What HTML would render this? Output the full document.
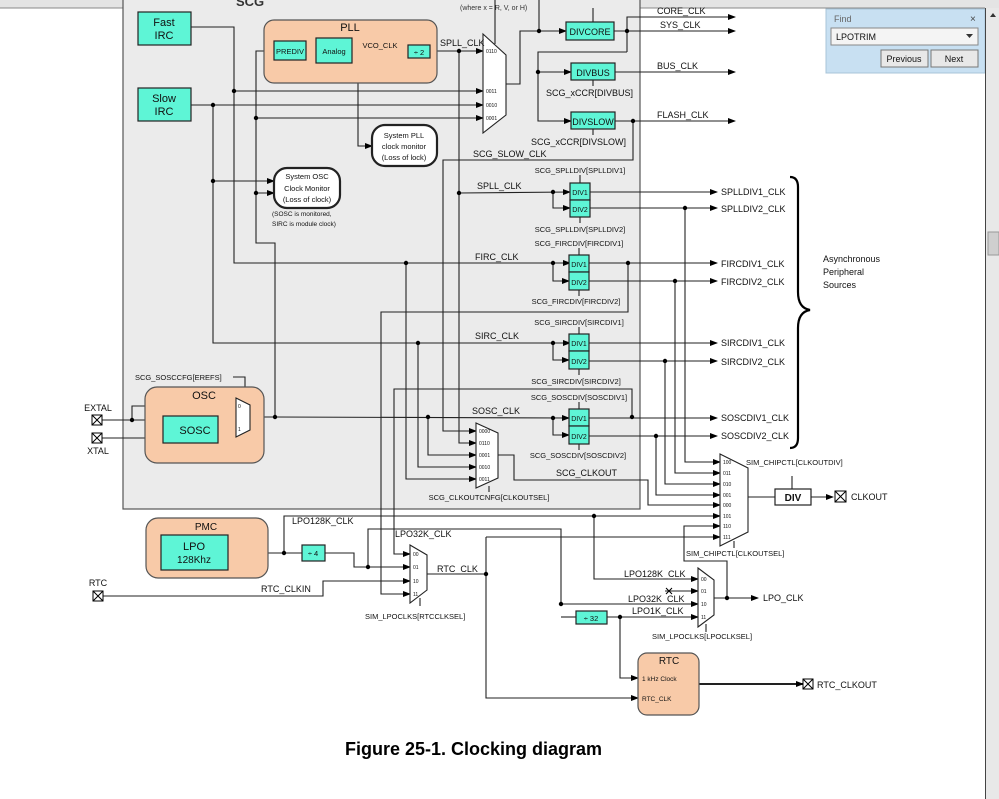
<!DOCTYPE html>
<html><head><meta charset="utf-8"><style>
html,body{margin:0;padding:0;background:#fff;}
svg{display:block;font-family:"Liberation Sans",sans-serif;}
</style></head><body>
<svg width="999" height="799" viewBox="0 0 999 799" xmlns="http://www.w3.org/2000/svg">
<defs>
<marker id="a" markerWidth="8" markerHeight="6" refX="7" refY="3" orient="auto" markerUnits="userSpaceOnUse"><path d="M0,0 L8,3 L0,6 z" fill="#000"/></marker>
</defs>
<rect width="999" height="799" fill="#fff"/>
<!-- top bar -->
<rect x="0" y="0" width="999" height="8" fill="#e4e4e4"/>
<line x1="0" y1="8" x2="985" y2="8" stroke="#888"/>
<!-- SCG box -->
<rect x="123" y="-2" width="517" height="511" fill="#ebebeb" stroke="#555" stroke-width="1.2"/>
<text x="236" y="6" font-size="13" font-weight="bold" fill="#333">SCG</text>
<text x="460" y="10" font-size="7" fill="#333">(where x = R, V, or H)</text>

<g fill="none" stroke="#222" stroke-width="1.1">
<!-- Fast IRC -->
<polyline points="191,27 234,27 234,263 570,263" marker-end="url(#a)"/>
<line x1="234" y1="91" x2="483" y2="91" marker-end="url(#a)"/>
<!-- Slow IRC -->
<line x1="191" y1="105" x2="483" y2="105" marker-end="url(#a)"/>
<polyline points="213,105 213,343 570,343" marker-end="url(#a)"/>
<line x1="213" y1="181" x2="274" y2="181" marker-end="url(#a)"/>
<!-- OSC feed vertical -->
<polyline points="274,51 256,51 256,243 275,243 275,417"/>
<line x1="256" y1="51" x2="274" y2="51" marker-end="url(#a)"/>
<line x1="256" y1="118" x2="483" y2="118" marker-end="url(#a)"/>
<line x1="256" y1="193" x2="274" y2="193" marker-end="url(#a)"/>
<!-- PLL internal -->
<line x1="306" y1="51" x2="316" y2="51"/>
<line x1="352" y1="51" x2="408" y2="51"/>
<polyline points="358,51 358,146 372,146" marker-end="url(#a)"/>
<line x1="430" y1="51" x2="483" y2="51" marker-end="url(#a)"/>
<polyline points="459,51 459,443 476,443" marker-end="url(#a)"/>
<polyline points="459,193 570,192" marker-end="url(#a)"/>
<!-- mux1 output -->
<polyline points="506,84 520,84 520,31 566,31" marker-end="url(#a)"/>
<line x1="539" y1="0" x2="539" y2="31"/>
<line x1="495" y1="0" x2="495" y2="44"/>
<polyline points="627,52 538,52 538,121 571,121" marker-end="url(#a)"/>
<line x1="538" y1="72" x2="571" y2="72" marker-end="url(#a)"/>
<line x1="614" y1="31" x2="735" y2="31" marker-end="url(#a)"/>
<polyline points="627,52 627,17 735,17" marker-end="url(#a)"/>
<line x1="615" y1="72" x2="735" y2="72" marker-end="url(#a)"/>
<line x1="615" y1="121" x2="735" y2="121" marker-end="url(#a)"/>
<polyline points="633,121 633,160 443,160 443,431 476,431" marker-end="url(#a)"/>
<line x1="593" y1="8" x2="593" y2="22"/>
<line x1="593" y1="80" x2="593" y2="86"/>
<line x1="593" y1="129" x2="593" y2="135"/>
<!-- DIV splitters -->
<polyline points="553,192 553,208 570,208" marker-end="url(#a)"/>
<polyline points="553,263 553,281 569,281" marker-end="url(#a)"/>
<polyline points="553,343 553,360 569,360" marker-end="url(#a)"/>
<polyline points="553,418 553,435 569,435" marker-end="url(#a)"/>
<line x1="275" y1="417" x2="569" y2="418" marker-end="url(#a)"/>
<!-- reg lines -->
<line x1="580" y1="175" x2="580" y2="183"/><line x1="580" y1="217" x2="580" y2="223"/>
<line x1="579" y1="248" x2="579" y2="255"/><line x1="579" y1="290" x2="579" y2="296"/>
<line x1="579" y1="327" x2="579" y2="334"/><line x1="579" y1="369" x2="579" y2="375"/>
<line x1="579" y1="402" x2="579" y2="409"/><line x1="579" y1="444" x2="579" y2="450"/>
<!-- DIV outputs -->
<line x1="590" y1="192" x2="717" y2="192" marker-end="url(#a)"/>
<line x1="590" y1="208" x2="717" y2="208" marker-end="url(#a)"/>
<line x1="589" y1="263" x2="717" y2="263" marker-end="url(#a)"/>
<line x1="589" y1="281" x2="717" y2="281" marker-end="url(#a)"/>
<line x1="589" y1="343" x2="717" y2="343" marker-end="url(#a)"/>
<line x1="589" y1="361" x2="717" y2="361" marker-end="url(#a)"/>
<line x1="589" y1="418" x2="717" y2="418" marker-end="url(#a)"/>
<line x1="589" y1="436" x2="717" y2="436" marker-end="url(#a)"/>
<!-- clkout mux inputs -->
<polyline points="428,417 428,455 476,455" marker-end="url(#a)"/>
<polyline points="418,343 418,467 476,467" marker-end="url(#a)"/>
<polyline points="406,263 406,479 476,479" marker-end="url(#a)"/>
<line x1="489" y1="486" x2="489" y2="492"/>
<polyline points="498,455 514,455 514,480 648,480 648,505 720,505" marker-end="url(#a)"/>
<!-- to RTC mux -->
<polyline points="628,263 628,312 381,312 381,594 410,594" marker-end="url(#a)"/>
<polyline points="632,417 632,389 394,389 394,554 410,554" marker-end="url(#a)"/>
<!-- SIM mux inputs -->
<polyline points="685,208 685,462 720,462" marker-end="url(#a)"/>
<polyline points="675,281 675,473 720,473" marker-end="url(#a)"/>
<polyline points="665,361 665,484 720,484" marker-end="url(#a)"/>
<polyline points="656,436 656,495 720,495" marker-end="url(#a)"/>
<line x1="748" y1="497" x2="775" y2="497"/>
<line x1="792" y1="476" x2="792" y2="489"/>
<line x1="811" y1="497" x2="833" y2="497" marker-end="url(#a)"/>
<line x1="734" y1="541" x2="734" y2="548"/>
<!-- OSC -->
<line x1="102" y1="420" x2="163" y2="420" marker-end="url(#a)"/>
<line x1="102" y1="438" x2="163" y2="438" marker-end="url(#a)"/>
<polyline points="132,420 132,406 236,406" marker-end="url(#a)"/>
<line x1="218" y1="429" x2="236" y2="429" marker-end="url(#a)"/>
<line x1="250" y1="417" x2="275" y2="417"/>
<polyline points="233,377 245,377 245,402"/>
<!-- LPO section -->
<line x1="228" y1="553" x2="302" y2="553"/>
<polyline points="284,553 284,516 720,516" marker-end="url(#a)"/>
<polyline points="594,516 594,579 698,579" marker-end="url(#a)"/>
<polyline points="325,553 354,553 354,567 410,567" marker-end="url(#a)"/>
<polyline points="368,567 368,529 561,529 561,604 698,604" marker-end="url(#a)"/>
<polyline points="561,617 576,617"/>
<line x1="607" y1="617" x2="698" y2="617" marker-end="url(#a)"/>
<polyline points="620,617 620,678 638,678" marker-end="url(#a)"/>
<polyline points="98,596 323,596 323,581 410,581" marker-end="url(#a)"/>
<line x1="427" y1="574" x2="486" y2="574"/>
<polyline points="486,537 720,537" marker-end="url(#a)"/>
<polyline points="486,537 486,698 638,698" marker-end="url(#a)"/>
<polyline points="720,526 684,526 684,561 727,561 727,598"/>
<line x1="684" y1="526" x2="720" y2="526" marker-end="url(#a)"/>
<line x1="714" y1="598" x2="758" y2="598" marker-end="url(#a)"/>
<line x1="665" y1="591" x2="698" y2="591" marker-end="url(#a)"/>
<line x1="420" y1="598" x2="420" y2="606"/>
<line x1="706" y1="624" x2="706" y2="632"/>
<line x1="699" y1="684" x2="803" y2="684" stroke-width="2" marker-end="url(#a)"/>
</g>
<!-- X mark -->
<path d="M666,588 l6,6 M672,588 l-6,6" stroke="#000" stroke-width="1"/>

<!-- dots -->
<g fill="#000">
<circle cx="234" cy="91" r="2.2"/><circle cx="213" cy="105" r="2.2"/><circle cx="213" cy="181" r="2.2"/>
<circle cx="256" cy="118" r="2.2"/><circle cx="256" cy="193" r="2.2"/><circle cx="358" cy="51" r="2.2"/>
<circle cx="459" cy="51" r="2.2"/><circle cx="459" cy="193" r="2.2"/><circle cx="539" cy="31" r="2.2"/>
<circle cx="538" cy="72" r="2.2"/><circle cx="627" cy="31" r="2.2"/><circle cx="633" cy="121" r="2.2"/>
<circle cx="553" cy="192" r="2.2"/><circle cx="553" cy="263" r="2.2"/><circle cx="553" cy="343" r="2.2"/><circle cx="553" cy="418" r="2.2"/>
<circle cx="406" cy="263" r="2.2"/><circle cx="418" cy="343" r="2.2"/><circle cx="428" cy="417" r="2.2"/><circle cx="275" cy="417" r="2.2"/>
<circle cx="628" cy="263" r="2.2"/><circle cx="632" cy="417" r="2.2"/>
<circle cx="685" cy="208" r="2.2"/><circle cx="675" cy="281" r="2.2"/><circle cx="665" cy="361" r="2.2"/><circle cx="656" cy="436" r="2.2"/>
<circle cx="132" cy="420" r="2.2"/><circle cx="284" cy="553" r="2.2"/><circle cx="594" cy="516" r="2.2"/>
<circle cx="368" cy="567" r="2.2"/><circle cx="561" cy="604" r="2.2"/><circle cx="620" cy="617" r="2.2"/>
<circle cx="486" cy="574" r="2.2"/><circle cx="727" cy="598" r="2.2"/>
</g>

<!-- blocks -->
<g stroke="#222" stroke-width="1.2">
<rect x="138" y="12" width="53" height="33" fill="#5ef5d6"/>
<rect x="138" y="88" width="53" height="33" fill="#5ef5d6"/>
<rect x="264" y="20" width="173" height="63" rx="10" fill="#f8caa8" stroke="#555"/>
<rect x="274" y="41" width="32" height="19" fill="#5ef5d6"/>
<rect x="316" y="38" width="36" height="25" fill="#5ef5d6"/>
<rect x="408" y="45" width="22" height="13" fill="#5ef5d6"/>
<rect x="566" y="22" width="48" height="18" fill="#5ef5d6"/>
<rect x="571" y="63" width="44" height="17" fill="#5ef5d6"/>
<rect x="571" y="112" width="44" height="17" fill="#5ef5d6"/>
<rect x="570" y="183" width="20" height="17" fill="#5ef5d6"/><rect x="570" y="200" width="20" height="17" fill="#5ef5d6"/>
<rect x="569" y="255" width="20" height="17" fill="#5ef5d6"/><rect x="569" y="272" width="20" height="18" fill="#5ef5d6"/>
<rect x="569" y="334" width="20" height="17" fill="#5ef5d6"/><rect x="569" y="351" width="20" height="18" fill="#5ef5d6"/>
<rect x="569" y="409" width="20" height="17" fill="#5ef5d6"/><rect x="569" y="426" width="20" height="18" fill="#5ef5d6"/>
<rect x="372" y="125" width="65" height="41" rx="13" fill="#fff" stroke-width="2.2"/>
<rect x="274" y="168" width="66" height="40" rx="13" fill="#fff" stroke-width="2.2"/>
<rect x="145" y="387" width="119" height="76" rx="12" fill="#f8caa8" stroke="#555"/>
<rect x="163" y="416" width="55" height="27" fill="#5ef5d6"/>
<rect x="146" y="518" width="122" height="60" rx="12" fill="#f8caa8" stroke="#555"/>
<rect x="161" y="535" width="67" height="35" fill="#5ef5d6"/>
<rect x="302" y="545" width="23" height="16" fill="#5ef5d6"/>
<rect x="576" y="611" width="31" height="13" fill="#5ef5d6"/>
<rect x="638" y="653" width="61" height="62" rx="9" fill="#f8caa8" stroke="#555"/>
<rect x="775" y="489" width="36" height="16" fill="#fff"/>
</g>
<!-- muxes -->
<g fill="#fff" stroke="#222" stroke-width="1.1">
<polygon points="483,34 506,55 506,115 483,133"/>
<polygon points="476,423 498,433 498,478 476,488"/>
<polygon points="720,454 748,468 748,532 720,546"/>
<polygon points="410,545 427,555 427,590 410,603"/>
<polygon points="698,568 714,580 714,615 698,627"/>
<polygon points="236,398 250,405 250,430 236,437"/>
</g>
<!-- pads -->
<g fill="#fff" stroke="#000" stroke-width="1">
<rect x="92" y="415" width="10" height="10"/><path d="M92,415 l10,10 M102,415 l-10,10"/>
<rect x="92" y="433" width="10" height="10"/><path d="M92,433 l10,10 M102,433 l-10,10"/>
<rect x="93" y="591" width="10" height="10"/><path d="M93,591 l10,10 M103,591 l-10,10"/>
<rect x="835" y="491" width="11" height="11"/><path d="M835,491 l11,11 M846,491 l-11,11"/>
<rect x="803" y="679" width="10" height="10"/><path d="M803,679 l10,10 M813,679 l-10,10"/>
</g>
<!-- brace -->
<path d="M790,177 q8,0 8,10 v105 q0,16 12,18 q-12,2 -12,18 v110 q0,10 -8,10" fill="none" stroke="#000" stroke-width="2.2"/>

<!-- text -->
<g font-size="10" fill="#111">
<text x="164" y="26" text-anchor="middle" font-size="11">Fast</text><text x="164" y="39" text-anchor="middle" font-size="11">IRC</text>
<text x="164" y="102" text-anchor="middle" font-size="11">Slow</text><text x="164" y="115" text-anchor="middle" font-size="11">IRC</text>
<text x="350" y="31" text-anchor="middle" font-size="11">PLL</text>
<text x="290" y="54" text-anchor="middle" font-size="7.5">PREDIV</text>
<text x="334" y="54" text-anchor="middle" font-size="7.5">Analog</text>
<text x="380" y="48" text-anchor="middle" font-size="7.5">VCO_CLK</text>
<text x="419" y="55" text-anchor="middle" font-size="7.5">÷ 2</text>
<text x="440" y="46" font-size="9">SPLL_CLK</text>
<g font-size="5"><text x="486" y="53">0110</text><text x="486" y="93">0011</text><text x="486" y="107">0010</text><text x="486" y="120">0001</text>
<text x="479" y="433">0000</text><text x="479" y="445">0110</text><text x="479" y="457">0001</text><text x="479" y="469">0010</text><text x="479" y="481">0011</text>
<text x="723" y="464">100</text><text x="723" y="475">011</text><text x="723" y="486">010</text><text x="723" y="497">001</text><text x="723" y="507">000</text><text x="723" y="518">101</text><text x="723" y="528">110</text><text x="723" y="539">111</text>
<text x="413" y="556">00</text><text x="413" y="569">01</text><text x="413" y="583">10</text><text x="413" y="596">11</text>
<text x="701" y="581">00</text><text x="701" y="593">01</text><text x="701" y="606">10</text><text x="701" y="619">11</text>
<text x="238" y="408">0</text><text x="238" y="431">1</text></g>
<text x="590" y="35" text-anchor="middle" font-size="9">DIVCORE</text>
<text x="593" y="76" text-anchor="middle" font-size="9">DIVBUS</text>
<text x="593" y="125" text-anchor="middle" font-size="9">DIVSLOW</text>
<text x="546" y="96" font-size="9">SCG_xCCR[DIVBUS]</text>
<text x="531" y="145" font-size="9">SCG_xCCR[DIVSLOW]</text>
<text x="473" y="157" font-size="9">SCG_SLOW_CLK</text>
<text x="657" y="14" font-size="9">CORE_CLK</text><text x="660" y="28" font-size="9">SYS_CLK</text>
<text x="657" y="69" font-size="9">BUS_CLK</text><text x="657" y="118" font-size="9">FLASH_CLK</text>
<text x="404" y="138" text-anchor="middle" font-size="7.5">System PLL</text><text x="404" y="149" text-anchor="middle" font-size="7.5">clock monitor</text><text x="404" y="160" text-anchor="middle" font-size="7.5">(Loss of lock)</text>
<text x="307" y="179" text-anchor="middle" font-size="7.5">System OSC</text><text x="307" y="191" text-anchor="middle" font-size="7.5">Clock Monitor</text><text x="307" y="202" text-anchor="middle" font-size="7.5">(Loss of clock)</text>
<text x="272" y="216" font-size="6.5">(SOSC is monitored,</text><text x="272" y="226" font-size="6.5">SIRC is module clock)</text>
<g font-size="7.5"><text x="580" y="173" text-anchor="middle">SCG_SPLLDIV[SPLLDIV1]</text><text x="580" y="232" text-anchor="middle">SCG_SPLLDIV[SPLLDIV2]</text>
<text x="579" y="246" text-anchor="middle">SCG_FIRCDIV[FIRCDIV1]</text><text x="576" y="304" text-anchor="middle">SCG_FIRCDIV[FIRCDIV2]</text>
<text x="579" y="325" text-anchor="middle">SCG_SIRCDIV[SIRCDIV1]</text><text x="576" y="384" text-anchor="middle">SCG_SIRCDIV[SIRCDIV2]</text>
<text x="579" y="400" text-anchor="middle">SCG_SOSCDIV[SOSCDIV1]</text><text x="578" y="458" text-anchor="middle">SCG_SOSCDIV[SOSCDIV2]</text>
<text x="489" y="500" text-anchor="middle">SCG_CLKOUTCNFG[CLKOUTSEL]</text>
<text x="135" y="380">SCG_SOSCCFG[EREFS]</text>
<text x="746" y="465">SIM_CHIPCTL[CLKOUTDIV]</text>
<text x="686" y="556">SIM_CHIPCTL[CLKOUTSEL]</text>
<text x="365" y="619">SIM_LPOCLKS[RTCCLKSEL]</text>
<text x="652" y="639">SIM_LPOCLKS[LPOCLKSEL]</text></g>
<g font-size="7"><text x="580" y="195" text-anchor="middle">DIV1</text><text x="580" y="212" text-anchor="middle">DIV2</text>
<text x="579" y="267" text-anchor="middle">DIV1</text><text x="579" y="285" text-anchor="middle">DIV2</text>
<text x="579" y="346" text-anchor="middle">DIV1</text><text x="579" y="364" text-anchor="middle">DIV2</text>
<text x="579" y="421" text-anchor="middle">DIV1</text><text x="579" y="439" text-anchor="middle">DIV2</text></g>
<text x="477" y="189" font-size="9">SPLL_CLK</text>
<text x="475" y="260" font-size="9">FIRC_CLK</text>
<text x="475" y="339" font-size="9">SIRC_CLK</text>
<text x="472" y="414" font-size="9">SOSC_CLK</text>
<text x="556" y="476" font-size="9">SCG_CLKOUT</text>
<g font-size="9"><text x="721" y="195">SPLLDIV1_CLK</text><text x="721" y="212">SPLLDIV2_CLK</text>
<text x="721" y="267">FIRCDIV1_CLK</text><text x="721" y="285">FIRCDIV2_CLK</text>
<text x="721" y="346">SIRCDIV1_CLK</text><text x="721" y="365">SIRCDIV2_CLK</text>
<text x="721" y="421">SOSCDIV1_CLK</text><text x="721" y="439">SOSCDIV2_CLK</text></g>
<text x="823" y="262" font-size="9">Asynchronous</text><text x="823" y="275" font-size="9">Peripheral</text><text x="823" y="288" font-size="9">Sources</text>
<text x="793" y="501" text-anchor="middle" font-size="10" font-weight="bold">DIV</text>
<text x="851" y="500" font-size="9">CLKOUT</text>
<text x="204" y="399" text-anchor="middle" font-size="11">OSC</text>
<text x="195" y="434" text-anchor="middle" font-size="11">SOSC</text>
<text x="98" y="411" text-anchor="middle" font-size="9">EXTAL</text>
<text x="98" y="454" text-anchor="middle" font-size="9">XTAL</text>
<text x="206" y="530" text-anchor="middle" font-size="10">PMC</text>
<text x="194" y="550" text-anchor="middle" font-size="11">LPO</text><text x="194" y="563" text-anchor="middle" font-size="10">128Khz</text>
<text x="313" y="556" text-anchor="middle" font-size="7.5">÷ 4</text>
<text x="591" y="621" text-anchor="middle" font-size="7.5">÷ 32</text>
<text x="292" y="524" font-size="9">LPO128K_CLK</text>
<text x="395" y="537" font-size="9">LPO32K_CLK</text>
<text x="437" y="572" font-size="9">RTC_CLK</text>
<text x="261" y="592" font-size="9">RTC_CLKIN</text>
<text x="98" y="586" text-anchor="middle" font-size="9">RTC</text>
<text x="624" y="577" font-size="9">LPO128K_CLK</text>
<text x="628" y="602" font-size="9">LPO32K_CLK</text>
<text x="632" y="614" font-size="9">LPO1K_CLK</text>
<text x="763" y="601" font-size="9">LPO_CLK</text>
<text x="669" y="664" text-anchor="middle" font-size="10">RTC</text>
<text x="642" y="681" font-size="6.5">1 kHz Clock</text>
<text x="642" y="701" font-size="6.5">RTC_CLK</text>
<text x="817" y="688" font-size="9">RTC_CLKOUT</text>
</g>
<text x="345" y="755" font-size="18" font-weight="bold" fill="#000">Figure 25-1. Clocking diagram</text>

<!-- Find panel -->
<rect x="826" y="9" width="159" height="64" fill="#c8e0f2" stroke="#a8c4d8"/>
<text x="834" y="22" font-size="9" fill="#666">Find</text>
<text x="970" y="22" font-size="10" fill="#444">×</text>
<rect x="831" y="28" width="147" height="17" fill="#f4f4f4" stroke="#888"/>
<text x="836" y="40" font-size="9" fill="#111">LPOTRIM</text>
<path d="M966,34 h7 l-3.5,4 z" fill="#333"/>
<rect x="881" y="50" width="47" height="17" fill="#e8e8e8" stroke="#777"/>
<text x="904" y="62" text-anchor="middle" font-size="9" fill="#111">Previous</text>
<rect x="931" y="50" width="47" height="17" fill="#e8e8e8" stroke="#777"/>
<text x="954" y="62" text-anchor="middle" font-size="9" fill="#111">Next</text>
<!-- scrollbar -->
<rect x="985" y="8" width="14" height="791" fill="#e8e8e8"/>
<line x1="985.5" y1="8" x2="985.5" y2="799" stroke="#444"/>
<rect x="988" y="232" width="11" height="23" fill="#cfcfcf" stroke="#999"/>
<path d="M990,17 l3,-4 l3,4 z" fill="#333"/>
</svg>
</body></html>
